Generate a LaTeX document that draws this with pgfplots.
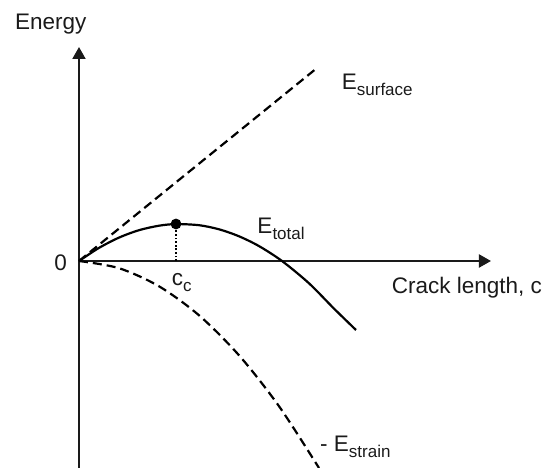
\documentclass[border=0pt]{standalone}
\usepackage{pgfplots}
\pgfplotsset{compat=1.18}
\usepackage{fontspec}
\setmainfont{Liberation Sans}
\usetikzlibrary{arrows.meta}
\newcommand{\lbl}[2]{#1\raisebox{-0.26em}{\fontsize{17}{17}\selectfont #2}}
\begin{document}
\fontsize{22.5}{26}\selectfont
\begin{tikzpicture}
\color[HTML]{1A1A1A}
\begin{axis}[
  anchor=origin, at={(0,0)},
  x=1pt, y=1pt,
  xmin=0, xmax=412, ymin=-207, ymax=214,
  enlargelimits=false,
  axis lines=middle,
  axis line style={line width=2pt, -{Triangle[length=12pt,width=13pt]}},
  xtick=\empty, ytick=\empty,
  clip=false,
  every axis plot/.append style={line width=2.2pt},
]
% E_surface
\addplot[black, dash pattern=on 9pt off 5pt] coordinates {(0,0) (238,193)};
% E_total
\addplot[black, smooth] coordinates {
 (0,0) (20,13.1) (40,23.4) (60,30.8) (80,35.3) (97,36.9) (120,35.8)
 (140,31.7) (160,24.7) (180,14.9) (203,0) (230,-22.3) (255,-47.6) (277,-69)};
% -E_strain
\addplot[black, smooth, dash pattern=on 9pt off 5pt] coordinates {
 (0,0) (40,-7.2) (80,-25.3) (120,-54.3) (160,-94.3) (200,-145.2) (240,-207)};
% critical crack length
\addplot[black, line width=2.4pt, dash pattern=on 1.8pt off 1.8pt] coordinates {(97,0) (97,37)};
\addplot[black, only marks, mark=*, mark size=4.2pt] coordinates {(97,37)};

\node[anchor=base west, inner sep=0pt] at (axis cs:-64,231) {Energy};
\node[anchor=base, inner sep=0pt] at (axis cs:-18.4,-10) {0};
\node[anchor=base west, inner sep=0pt] at (axis cs:92.7,-25) {\lbl{c}{c}};
\node[anchor=base west, inner sep=0pt] at (axis cs:178.3,27.7) {\lbl{E}{total}};
\node[anchor=base west, inner sep=0pt] at (axis cs:262.7,171.7) {\lbl{E}{surface}};
\node[anchor=base west, inner sep=0pt] at (axis cs:312.7,-32.3) {Crack length, c};
\node[anchor=base west, inner sep=0pt] at (axis cs:241,-190.7) {- \lbl{E}{strain}};
\end{axis}
\pgfresetboundingbox
\path[use as bounding box] (-79pt,-207pt) rectangle (463pt,261pt);
\end{tikzpicture}
\end{document}
